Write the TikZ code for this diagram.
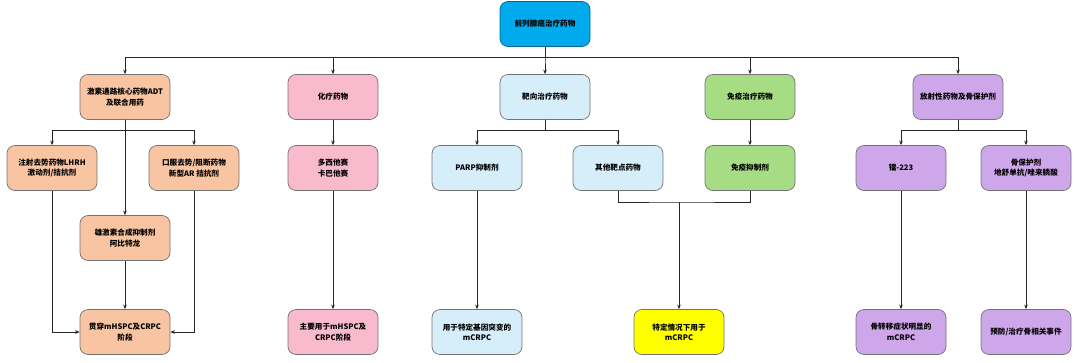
\documentclass[tikz,border=0pt]{standalone}
\usepackage{fontspec}
\setmainfont{Noto Sans CJK SC}
\usepackage{xcolor}
\usetikzlibrary{arrows.meta,positioning,calc}

\definecolor{rootblue}{RGB}{0,170,236}
\definecolor{adtorange}{RGB}{248,196,162}
\definecolor{chemopink}{RGB}{250,186,206}
\definecolor{targetblue}{RGB}{214,238,250}
\definecolor{immunegreen}{RGB}{166,220,132}
\definecolor{specialyellow}{RGB}{255,255,0}
\definecolor{radiopurple}{RGB}{206,166,234}

\begin{document}
\begin{tikzpicture}[
    x=1pt, y=-1pt,
    drug/.style={rectangle, draw=black!55, line width=0.7pt, rounded corners=8pt, align=center, minimum height=45pt, minimum width=90pt, inner sep=2pt, font=\fontsize{7.6}{10.5}\selectfont\bfseries},
    arrow/.style={-{Stealth[length=4.5pt,width=3.6pt]}, line width=0.7pt, draw=black!85},
    link/.style={line width=0.7pt, draw=black!85}
]
    \useasboundingbox (0,0) rectangle (1080,362);

    % top level
    \node [drug, fill=rootblue, draw=rootblue!60!black] (root) at (545,24) {前列腺癌治疗药物};

    % drug classes
    \node [drug, fill=adtorange] (adt) at (125,97) {激素通路核心药物ADT\\及联合用药};
    \node [drug, fill=chemopink] (chemo) at (333,97) {化疗药物};
    \node [drug, fill=targetblue] (target) at (545,97) {靶向治疗药物};
    \node [drug, fill=immunegreen] (immune) at (750,97) {免疫治疗药物};
    \node [drug, fill=radiopurple] (radio) at (958,97) {放射性药物及骨保护剂};

    % agents
    \node [drug, fill=adtorange] (lhrh) at (52,168) {注射去势药物LHRH\\激动剂/拮抗剂};
    \node [drug, fill=adtorange] (oral) at (194,168) {口服去势/阻断药物\\新型AR 拮抗剂};
    \node [drug, fill=adtorange] (andro) at (125,238) {雄激素合成抑制剂\\阿比特龙};
    \node [drug, fill=chemopink] (taxane) at (333,168) {多西他赛\\卡巴他赛};
    \node [drug, fill=targetblue] (parp) at (477,168) {PARP抑制剂};
    \node [drug, fill=targetblue] (other) at (618,168) {其他靶点药物};
    \node [drug, fill=immunegreen] (ici) at (750,168) {免疫抑制剂};
    \node [drug, fill=radiopurple] (radium) at (901,168) {镭-223};
    \node [drug, fill=radiopurple] (bone) at (1026,168) {骨保护剂\\地舒单抗/唑来膦酸};

    % indications
    \node [drug, fill=adtorange] (stage) at (125,332) {贯穿mHSPC及CRPC\\阶段};
    \node [drug, fill=chemopink] (chemouse) at (333,332) {主要用于mHSPC及\\CRPC阶段};
    \node [drug, fill=targetblue] (parpuse) at (477,332) {用于特定基因突变的\\mCRPC};
    \node [drug, fill=specialyellow] (special) at (679,332) {特定情况下用于\\mCRPC};
    \node [drug, fill=radiopurple] (radiumuse) at (901,332) {骨转移症状明显的\\mCRPC};
    \node [drug, fill=radiopurple] (boneuse) at (1026,332) {预防/治疗骨相关事件};
    \coordinate (join) at (679,202);

    \foreach \c in {adt,chemo,target,immune,radio}
        \draw [arrow] (root.south) -- ++(0,10) -| (\c.north);
    \foreach \p/\c in {adt/lhrh,adt/oral,target/parp,target/other,radio/radium,radio/bone}
        \draw [arrow] (\p.south) -- ++(0,10) -| (\c.north);
    \foreach \p/\c in {adt/andro,andro/stage,chemo/taxane,taxane/chemouse,parp/parpuse,immune/ici,radium/radiumuse,bone/boneuse}
        \draw [arrow] (\p) -- (\c);
    \draw [arrow] (lhrh.south) |- (stage.west);
    \draw [arrow] (oral.south) |- (stage.east);
    \draw [link] (other.south) |- (join) -| (ici.south);
    \draw [arrow] (join) -- (special);
\end{tikzpicture}
\end{document}
